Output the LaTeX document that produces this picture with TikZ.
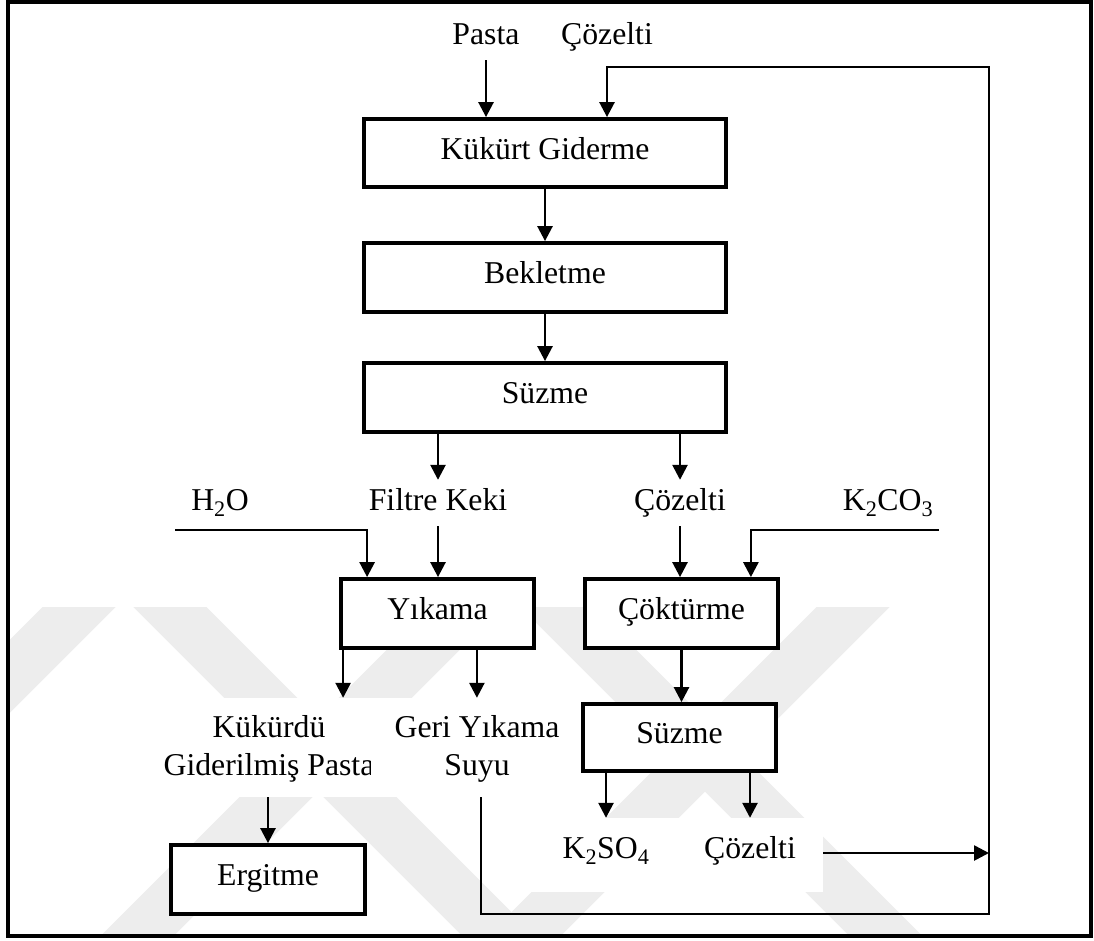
\documentclass[tikz,border=0pt]{standalone}
\usepackage{fontspec}
\setmainfont{Liberation Serif}
\usetikzlibrary{arrows.meta,calc}
\begin{document}
\begin{tikzpicture}[x=1pt,y=-1pt,
  every node/.style={font=\fontsize{31.75}{38}\selectfont},
  proc/.style={draw, line width=3.8pt, rectangle, inner sep=0pt, fill=white,
    text height=21pt, text depth=9pt},
  lbl/.style={inner xsep=2pt, inner ysep=9pt, text height=21pt, text depth=7pt, anchor=base},
  mask/.style={fill=white, inner sep=0pt, draw=none},
  flow/.style={line width=2.6pt, -{Triangle[width=15pt,length=15pt]}},
  wm/.style={fill=black!7}
]
\useasboundingbox (0,0) rectangle (1094,940);
\fill[white] (0,0) rectangle (1094,940);

% faint background emblem: crossing diagonal bands
\begin{scope}
  \clip (10,607) rectangle (1089,934);
  \foreach \s in {686,1073,1460}
    \fill[wm] ({\s-636.5},600) -- ({\s-563.5},600) -- ({\s-903.5},940) -- ({\s-976.5},940) -- cycle;
  \foreach \d in {-437,-50}
    \fill[wm] ({\d+563.5},600) -- ({\d+636.5},600) -- ({\d+976.5},940) -- ({\d+903.5},940) -- cycle;
\end{scope}

\draw[line width=4pt] (8,1.5) rectangle (1091,936);

% process steps
\node[proc, minimum width=362pt, minimum height=68pt] (kg) at (545,153) {Kükürt Giderme};
\node[proc, minimum width=362pt, minimum height=69pt] (bk) at (545,277.5) {Bekletme};
\node[proc, minimum width=362pt, minimum height=69pt] (sz1) at (545,397.5) {Süzme};
\node[proc, minimum width=193pt, minimum height=69pt] (yk) at (437.5,613.5) {Yıkama};
\node[proc, minimum width=193pt, minimum height=69pt] (ck) at (681.5,613.5) {Çöktürme};
\node[proc, minimum width=193pt, minimum height=67pt] (sz2) at (679.5,737.5) {Süzme};
\node[proc, minimum width=194pt, minimum height=69pt] (er) at (268,879.5) {Ergitme};

% stream labels
\node[lbl] (pasta) at (486,44) {Pasta};
\node[lbl] (coz1) at (607,44) {Çözelti};
\node[lbl] (h2o) at (220,510) {H\textsubscript{2}O};
\node[lbl] (fk) at (438,510) {Filtre Keki};
\node[lbl] (coz2) at (680,510) {Çözelti};
\node[lbl] (k2co3) at (888,510) {K\textsubscript{2}CO\textsubscript{3}};

\node[mask, minimum width=244pt, minimum height=99pt] (kukbg) at (248,747.5) {};
\node[mask, minimum width=208pt, minimum height=99pt] (geribg) at (474,747.5) {};
\node[mask, minimum width=311pt, minimum height=74pt] (outbg) at (667.5,855) {};

\begin{scope}
  \clip (126,698) rectangle (370,797);
  \node[align=center, inner sep=0pt] (kuk) at (269,749) {Kükürdü\\Giderilmiş Pasta};
\end{scope}
\node[align=center, inner sep=0pt] (geri) at (477,749) {Geri Yıkama\\Suyu};
\node[lbl] (k2so4) at (606,858) {K\textsubscript{2}SO\textsubscript{4}};
\node[lbl] (coz3) at (750,858) {Çözelti};

% loose ends of the streams
\coordinate (h2oin) at (175,530);
\coordinate (k2in) at (939,530);
\coordinate (gs) at (481,797);
\coordinate (loopbr) at (989,914);
\coordinate (looptr) at (989,67);
\coordinate (c3out) at (823,853);

% connections
\draw[flow] (pasta) -- (pasta |- kg.north);
\draw[flow] (kg) -- (bk);
\draw[flow] (bk) -- (sz1);
\draw[flow] (sz1.south -| fk) -- (fk);
\draw[flow] (sz1.south -| coz2) -- (coz2);
\draw[flow] (fk) -- (fk |- yk.north);
\draw[flow] (h2oin) -| ([xshift=28pt]yk.north west);
\draw[flow] (coz2) -- (coz2 |- ck.north);
\draw[flow] (k2in) -| ([xshift=-29pt]ck.north east);
\draw[flow] (ck.south) -- (ck.south |- sz2.north);
\draw[flow] ([xshift=4pt]yk.south west) -- ([xshift=4pt]yk.south west |- kukbg.north);
\draw[flow] ([xshift=-59pt]yk.south east) -- ([xshift=-59pt]yk.south east |- geribg.north);
\draw[flow] (kukbg.south -| er) -- (er);
\draw[flow] (sz2.south -| k2so4) -- (k2so4 |- outbg.north);
\draw[flow] (sz2.south -| coz3) -- (coz3 |- outbg.north);
\draw[flow] (c3out) -- (c3out -| looptr);
\draw[flow] (gs) |- (loopbr) -- (looptr) -| (coz1 |- kg.north);
\end{tikzpicture}
\end{document}
